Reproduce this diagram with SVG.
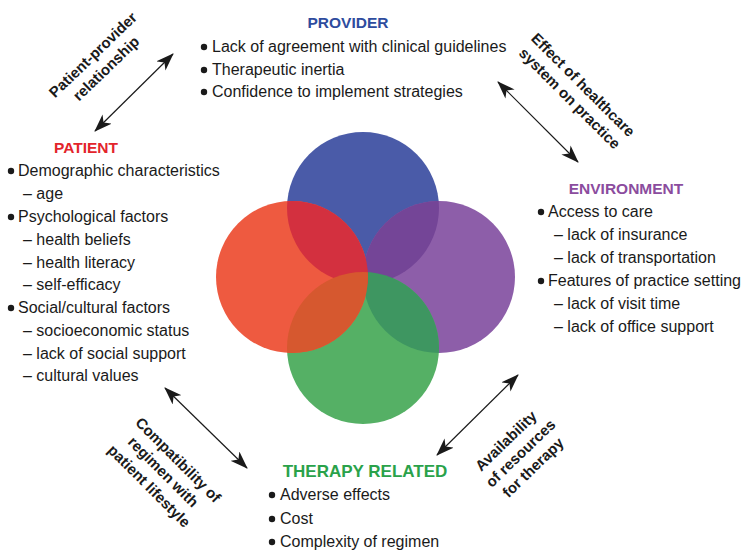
<svg xmlns="http://www.w3.org/2000/svg" width="747" height="557" viewBox="0 0 747 557">
<style>
text{font-family:"Liberation Sans",Arial,sans-serif;fill:#1a1a1a}
.t{font-size:16px}
.h{font-size:15.5px;font-weight:bold;text-anchor:middle}
.lab{font-size:15px;font-weight:bold;text-anchor:middle}
.b{fill:#1a1a1a}
.conn line{stroke:#1a1a1a;stroke-width:1.2}
</style>
<defs>
<marker id="ah" viewBox="0 0 18 13" refX="17" refY="6.5" markerWidth="18" markerHeight="13" markerUnits="userSpaceOnUse" orient="auto-start-reverse">
<path d="M0,0 L18,6.5 L0,13 L5,6.5 z" fill="#1a1a1a"/>
</marker>
<clipPath id="cB"><circle cx="363" cy="208" r="76"/></clipPath>
<clipPath id="cR"><circle cx="292" cy="277" r="76"/></clipPath>
<clipPath id="cP"><circle cx="439" cy="277" r="76"/></clipPath>
<clipPath id="cG"><circle cx="363" cy="348" r="76"/></clipPath>
</defs>

<g id="circles">
<circle cx="363" cy="208" r="76" fill="#4a5ba8"/>
<circle cx="439" cy="277" r="76" fill="#8d5ea9"/>
<circle cx="363" cy="348" r="76" fill="#55b065"/>
<circle cx="292" cy="277" r="76" fill="#ee5a40"/>
<circle cx="363" cy="348" r="76" fill="#3b7f78" clip-path="url(#cB)"/>
<circle cx="439" cy="277" r="76" fill="#744597" clip-path="url(#cB)"/>
<circle cx="439" cy="277" r="76" fill="#3e9661" clip-path="url(#cG)"/>
<circle cx="292" cy="277" r="76" fill="#d3303f" clip-path="url(#cB)"/>
<g clip-path="url(#cG)"><circle cx="292" cy="277" r="76" fill="#d6582f"/></g>
</g>

<g id="provider">
<text class="h" x="348" y="28" style="fill:#2e4c9e">PROVIDER</text>
<circle class="b" cx="204" cy="47" r="3.2"/><text class="t" x="212" y="52">Lack of agreement with clinical guidelines</text>
<circle class="b" cx="204" cy="70" r="3.2"/><text class="t" x="212" y="75">Therapeutic inertia</text>
<circle class="b" cx="204" cy="92" r="3.2"/><text class="t" x="212" y="97">Confidence to implement strategies</text>
</g>

<g id="patient">
<text class="h" x="86" y="153" style="fill:#e3242b">PATIENT</text>
<circle class="b" cx="11" cy="171" r="3.2"/><text class="t" x="18" y="176">Demographic characteristics</text>
<text class="t" x="23" y="199">– age</text>
<circle class="b" cx="11" cy="217" r="3.2"/><text class="t" x="18" y="222">Psychological factors</text>
<text class="t" x="23" y="245">– health beliefs</text>
<text class="t" x="23" y="268">– health literacy</text>
<text class="t" x="23" y="290">– self-efficacy</text>
<circle class="b" cx="11" cy="308" r="3.2"/><text class="t" x="18" y="313">Social/cultural factors</text>
<text class="t" x="23" y="336">– socioeconomic status</text>
<text class="t" x="23" y="359">– lack of social support</text>
<text class="t" x="23" y="381">– cultural values</text>
</g>

<g id="environment">
<text class="h" x="626" y="194" style="fill:#8b4c9e">ENVIRONMENT</text>
<circle class="b" cx="541" cy="212" r="3.2"/><text class="t" x="548" y="217">Access to care</text>
<text class="t" x="554" y="240">– lack of insurance</text>
<text class="t" x="554" y="263">– lack of transportation</text>
<circle class="b" cx="541" cy="281" r="3.2"/><text class="t" x="548" y="286">Features of practice setting</text>
<text class="t" x="554" y="309">– lack of visit time</text>
<text class="t" x="554" y="332">– lack of office support</text>
</g>

<g id="therapy">
<text class="h" x="365" y="477" style="fill:#2aa24a;font-size:17px">THERAPY RELATED</text>
<circle class="b" cx="272" cy="495" r="3.2"/><text class="t" x="280" y="500">Adverse effects</text>
<circle class="b" cx="272" cy="519" r="3.2"/><text class="t" x="280" y="524">Cost</text>
<circle class="b" cx="272" cy="542" r="3.2"/><text class="t" x="280" y="547">Complexity of regimen</text>
</g>

<g id="connectors" class="conn">
<line x1="95" y1="131" x2="173" y2="54" marker-start="url(#ah)" marker-end="url(#ah)"/>
<line x1="498" y1="82" x2="578" y2="162" marker-start="url(#ah)" marker-end="url(#ah)"/>
<line x1="165" y1="388" x2="247" y2="468" marker-start="url(#ah)" marker-end="url(#ah)"/>
<line x1="518" y1="375" x2="437" y2="455" marker-start="url(#ah)" marker-end="url(#ah)"/>
</g>

<g id="labels">
<g transform="translate(93,55) rotate(-44)">
<text class="lab" x="0" y="5">Patient-provider</text>
<text class="lab" x="0" y="24">relationship</text>
</g>
<g transform="translate(583,85) rotate(45)">
<text class="lab" x="0" y="5">Effect of healthcare</text>
<text class="lab" x="0" y="24">system on practice</text>
</g>
<g transform="translate(178,460) rotate(45)">
<text class="lab" x="0" y="5">Compatibility of</text>
<text class="lab" x="-2" y="24">regimen with</text>
<text class="lab" x="-2" y="44">patient lifestyle</text>
</g>
<g transform="translate(506,441) rotate(-44)">
<text class="lab" x="0" y="5">Availability</text>
<text class="lab" x="2" y="24">of resources</text>
<text class="lab" x="1" y="43">for therapy</text>
</g>
</g>
</svg>
